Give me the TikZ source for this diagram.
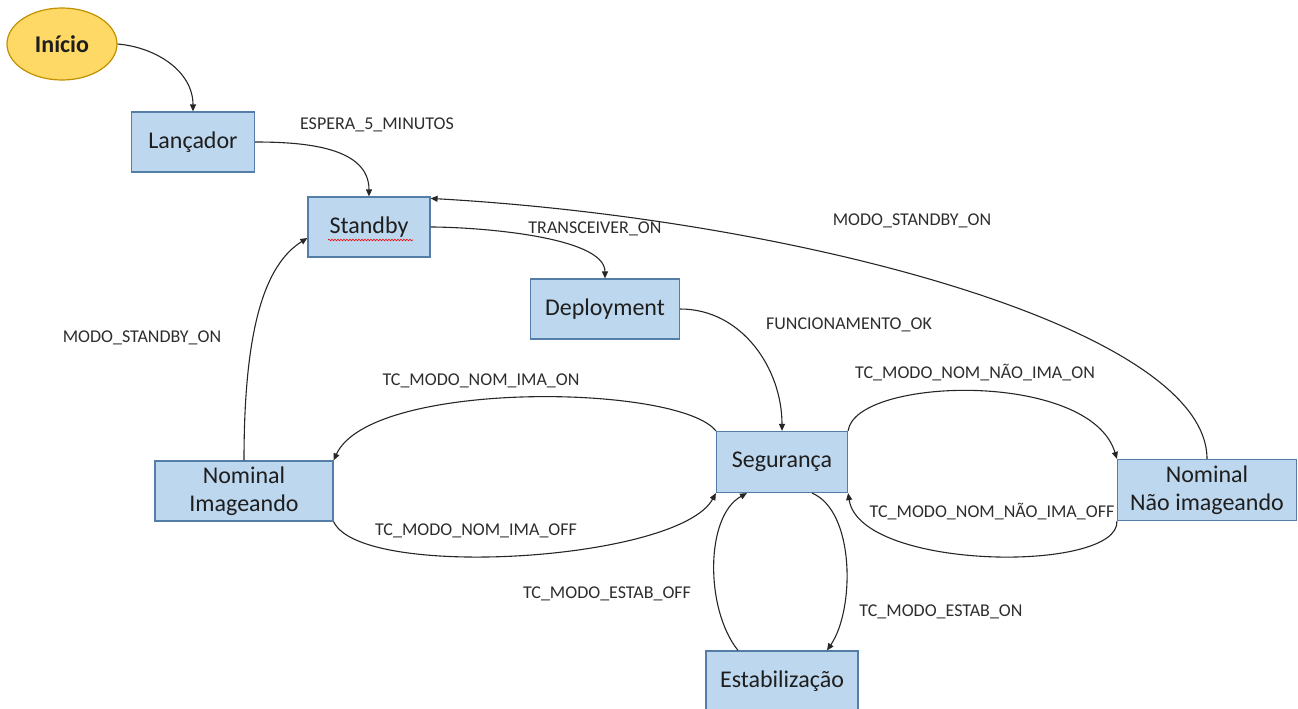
\documentclass[tikz,border=0pt]{standalone}
\usepackage{fontspec}
\setmainfont{Carlito}
\usetikzlibrary{arrows.meta,shapes.geometric,decorations.pathmorphing}
\definecolor{boxfill}{RGB}{189,215,238}
\definecolor{boxline}{RGB}{84,126,168}
\definecolor{inifill}{RGB}{255,217,102}
\definecolor{iniline}{RGB}{191,144,0}
\definecolor{txt}{RGB}{30,30,30}
\definecolor{lbltxt}{RGB}{45,45,45}
\tikzset{
  modebox/.style={draw=boxline, fill=boxfill, line width=1.2pt, minimum height=60pt, inner sep=2pt, align=center, text=txt, font=\fontsize{24}{28}\selectfont},
  lbl/.style={text=lbltxt, inner sep=0pt, font=\fontsize{18}{20}\selectfont},
  trans/.style={draw=black!85, line width=1.1pt, -{Triangle[length=7pt,width=6pt]}},
}
\begin{document}
\begin{tikzpicture}[x=1pt, y=1pt]
  \useasboundingbox (0,0) rectangle (1298,-709);
  % estados
  \node[ellipse, draw=iniline, fill=inifill, line width=1.2pt, minimum width=110pt, minimum height=72pt, text=txt, font=\fontsize{24}{28}\selectfont\bfseries] (ini) at (62,-44) {Início};
  \node[modebox, minimum width=123pt] (lan) at (193,-142) {Lançador};
  \node[modebox, minimum width=122pt] (sb) at (369,-227) {Standby};
  \node[modebox, minimum width=149pt] (dep) at (605,-309) {Deployment};
  \node[modebox, minimum width=131pt, minimum height=61pt] (seg) at (782,-462) {Segurança};
  \node[modebox, minimum width=178pt] (nim) at (244,-491) {Nominal\\Imageando};
  \node[modebox, minimum width=179pt, minimum height=61pt] (nni) at (1207,-490) {Nominal\\Não imageando};
  \node[modebox, minimum width=152pt] (est) at (782,-681) {Estabilização};
  \draw[red, line width=0.6pt, decorate, decoration={snake, amplitude=0.8pt, segment length=3pt}] (328,-240) -- (413,-240);
  % transicoes
  \draw[trans] (ini.east) to[out=-5,in=90] (lan.north);
  \draw[trans] (lan.east) to[out=0,in=90] (sb.north);
  \draw[trans] (nni.north) .. controls +(0,130) and +(370,-21) .. ([yshift=-2pt]sb.north east);
  \draw[trans] (sb.east) to[out=0,in=90,looseness=0.6] (dep.north);
  \draw[trans] (dep.east) to[out=0,in=90] (seg.north);
  \draw[trans] (seg.north west) .. controls +(-37,47) and +(37,81) .. (nim.north east);
  \draw[trans] (nim.south east) .. controls +(27,-59) and +(-37,-68) .. (seg.south west);
  \draw[trans] (seg.north east) .. controls +(7,54) and +(-27,89) .. (nni.north west);
  \draw[trans] (nni.south west) .. controls +(3,-52) and +(12,-78) .. (seg.south east);
  \draw[trans] (nim.north) .. controls +(0,131) and +(-43,-27) .. ([yshift=-11pt]sb.west);
  \draw[trans] ([xshift=-44pt]est.north) .. controls +(-33,41) and +(-42,-23) .. ([xshift=-35pt]seg.south);
  \draw[trans] ([xshift=30pt]seg.south) .. controls +(43,-18) and +(28,41) .. ([xshift=45pt]est.north);
  % rotulos
  \foreach \n/\x/\y/\t in {l1/377/125/ESPERA\_5\_MINUTOS, l2/595/229/TRANSCEIVER\_ON,
      l3/912/221/MODO\_STANDBY\_ON, l4/142/338/MODO\_STANDBY\_ON,
      l5/849/325/FUNCIONAMENTO\_OK, l6/481/381/TC\_MODO\_NOM\_IMA\_ON,
      l7/476/531/TC\_MODO\_NOM\_IMA\_OFF, l8/975/373/TC\_MODO\_NOM\_NÃO\_IMA\_ON,
      l9/992/512/TC\_MODO\_NOM\_NÃO\_IMA\_OFF, l10/607/594/TC\_MODO\_ESTAB\_OFF,
      l11/941/612/TC\_MODO\_ESTAB\_ON}
    \node[lbl] (\n) at (\x,-\y) {\t};
\end{tikzpicture}
\end{document}
